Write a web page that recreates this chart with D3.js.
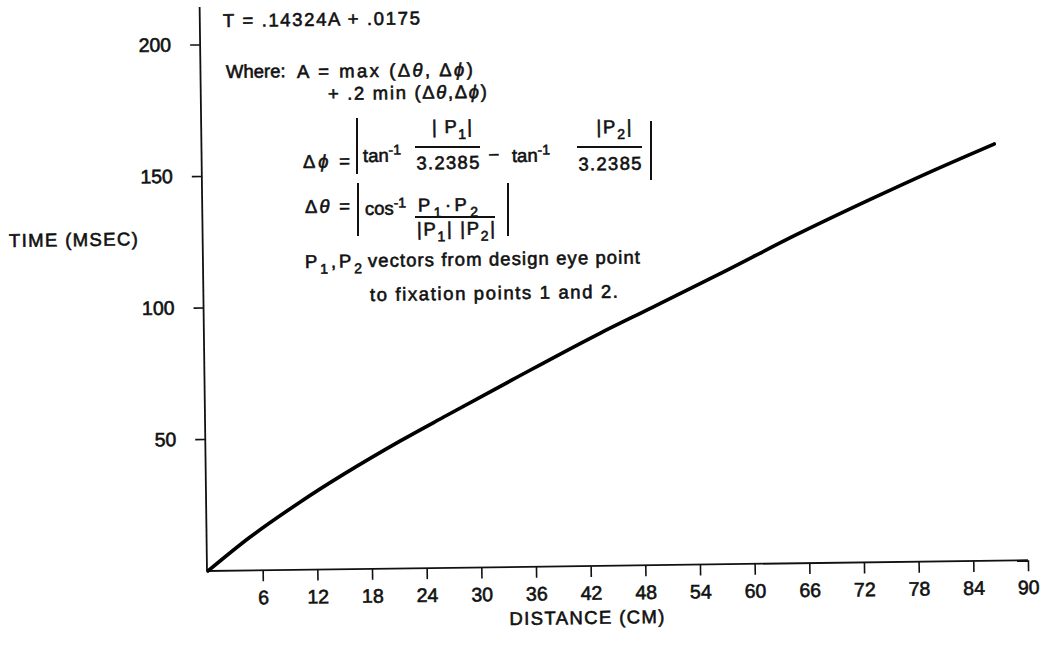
<!DOCTYPE html>
<html>
<head>
<meta charset="utf-8">
<script src="https://cdn.jsdelivr.net/npm/d3@7"></script>
<style>
  html, body { margin: 0; padding: 0; background: #fff; }
  svg { display: block; }
  text { font-family: "Liberation Sans", Arial, Helvetica, sans-serif; fill: #111; }
</style>
</head>
<body>
<svg id="chart" width="1043" height="645"></svg>
<script>
// ---- data ----
const distanceCm = [0, 4.6, 10.1, 21.2, 26.4, 33.7, 43.3, 49.1, 57.3, 65.0, 72.8, 80.1, 86.9];
const timeMsec   = [0, 12.5, 25.5, 48.3, 57.9, 71.2, 88.3, 97.9, 111.6, 124.8, 137.3, 148.5, 158.4];
const xTickValues = [6, 12, 18, 24, 30, 36, 42, 48, 54, 60, 66, 72, 78, 84, 90];
const yTickValues = [50, 100, 150, 200];
const xLabel = "DISTANCE (CM)";
const yLabel = "TIME (MSEC)";

// ---- layout ----
const origin = [207, 571];
const tiltDeg = -0.75;               // the scanned page is slightly rotated
const xMax = 90, yMax = 214.4;

const svg = d3.select("#chart");
const g = svg.append("g").attr("transform", `rotate(${tiltDeg},${origin[0]},${origin[1]})`);

// convert an observed (tilted) page position into the group's unrotated frame
function unrot(x, y) {
  const a = -tiltDeg * Math.PI / 180;
  const dx = x - origin[0], dy = y - origin[1];
  return [origin[0] + dx * Math.cos(a) - dy * Math.sin(a),
          origin[1] + dx * Math.sin(a) + dy * Math.cos(a)];
}

const x = d3.scaleLinear().domain([0, xMax]).range([208, 1028]);
const y = d3.scaleLinear().domain([0, yMax]).range([origin[1], 7]);

function styleText(sel, size) {
  sel.style("font-size", (size || 18.5) + "px")
     .attr("fill", "#111").attr("stroke", "#111").attr("stroke-width", 0.6);
}

// ---- axes ----
const xAxis = d3.axisBottom(x).tickValues(xTickValues).tickSize(11).tickSizeOuter(0).tickPadding(9);
const gx = g.append("g").attr("transform", `translate(0,${origin[1]})`).call(xAxis);
gx.select(".domain").attr("stroke", "#111").attr("stroke-width", 1.8).attr("d", `M${origin[0]},0H${x(xMax)}`);
gx.selectAll(".tick line").attr("stroke", "#111").attr("stroke-width", 1.6);
gx.selectAll(".tick text").call(styleText, 19.5);

const yAxis = d3.axisLeft(y).tickValues(yTickValues).tickSize(10).tickSizeOuter(0).tickPadding(19);
const gy = g.append("g").call(yAxis);
gy.selectAll(".tick").attr("transform", d => `translate(${origin[0]},${y(d)})`);
gy.select(".domain").attr("stroke", "#111").attr("stroke-width", 1.8).attr("d", `M${origin[0]},${y(0)}V${y(yMax)}`);
gy.selectAll(".tick line").attr("stroke", "#111").attr("stroke-width", 1.6);
gy.selectAll(".tick text").call(styleText, 19.5);

// ---- curve ----
const pts = distanceCm.map((d, i) => [d, timeMsec[i]]);
const line = d3.line().x(d => x(d[0])).y(d => y(d[1])).curve(d3.curveMonotoneX);
g.append("path").datum(pts).attr("d", line)
  .attr("fill", "none").attr("stroke", "#000").attr("stroke-width", 3.6)
  .attr("stroke-linecap", "round").attr("stroke-linejoin", "round");

// ---- text helpers ----
const ann = g.append("g");

// parts: strings or [string, kind]; width: the typewriter-spaced width seen in the scan
function rich(xo, yo, parts, anchor, width) {
  const p = unrot(xo, yo);
  const t = ann.append("text").attr("x", p[0]).attr("y", p[1]).attr("text-anchor", anchor || "start")
    .call(styleText);
  let cur = 0;
  parts.forEach(part => {
    const [s, k] = typeof part === "string" ? [part, ""] : part;
    const off = k === "sub" ? 6 : (k === "sup" ? -7 : 0);
    const ts = t.append("tspan").text(s).attr("dy", off - cur);
    if (k === "sub" || k === "sup") ts.style("font-size", "14px");
    if (k === "it") ts.style("font-style", "italic");
    cur = off;
  });
  if (width && width > t.node().getComputedTextLength()) {
    t.attr("textLength", width).attr("lengthAdjust", "spacing");
  }
  return t;
}
function rule(x1, y1, x2, y2, w) {
  const a = unrot(x1, y1), b = unrot(x2, y2);
  g.append("line").attr("x1", a[0]).attr("y1", a[1]).attr("x2", b[0]).attr("y2", b[1])
    .attr("stroke", "#111").attr("stroke-width", w || 1.6);
}

// axis titles
rich(9, 247, [yLabel], "start", 129);
rich(587, 624, [xLabel], "middle", 155);

// formula block
rich(223, 27, ["T = .14324A + .0175"], "start", 197);
rich(226, 78, ["Where:"]);
rich(297, 78, ["A = max (Δ", ["θ", "it"], ", Δ", ["ϕ", "it"], ")"], "start", 176);
rich(328, 100, ["+ .2 min (Δ", ["θ", "it"], ",Δ", ["ϕ", "it"], ")"], "start", 159);

// Δϕ line
rich(303, 168, ["Δ", ["ϕ", "it"], " ="], "start", 47);
rule(357, 118, 357, 174, 2);
rich(363, 162, ["tan", ["-1", "sup"]]);
rich(452, 133, ["| P", ["1", "sub"], ["|", ""]], "middle", 40);
rule(415, 147, 480, 147, 2);
rich(448, 169, ["3.2385"], "middle", 63);
rich(494, 161, ["−"], "middle");
rich(512, 162, ["tan", ["-1", "sup"]]);
rich(614, 133, ["|P", ["2", "sub"], ["|", ""]], "middle", 35);
rule(577, 147, 642, 147, 2);
rich(610, 170, ["3.2385"], "middle", 63);
rule(651, 121, 651, 180, 2);

// Δθ line
rich(305, 213, ["Δ", ["θ", "it"], " ="], "start", 45);
rule(358, 183, 358, 236, 2);
rich(365, 215, ["cos", ["-1", "sup"]]);
rich(448, 211, ["P", ["1", "sub"], "·P", ["2", "sub"]], "middle", 60);
rule(415, 217, 495, 217, 2);
rich(456, 235, ["|P", ["1", "sub"], "| |P", ["2", "sub"], "|"], "middle", 78);
rule(508, 183, 508, 236, 2);

// vectors note
rich(305, 268, ["P", ["1", "sub"], ",P", ["2", "sub"]], "start", 57);
rich(368, 267, ["vectors from design eye point"], "start", 272);
rich(370, 301, ["to fixation points 1 and 2."], "start", 248);
</script>
</body>
</html>
